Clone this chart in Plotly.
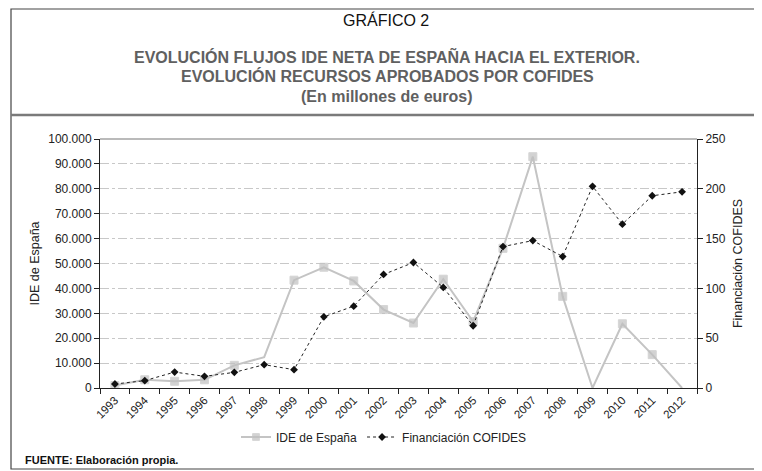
import plotly.graph_objects as go

years = [str(y) for y in range(1993, 2013)]
ide_espana = [1000, 3300, 2700, 3300, 9100, 12400, 43300, 48500, 43000, 31500,
              26100, 43700, 26700, 56100, 92900, 36800, 0, 25800, 13400, 0]
cofides = [4, 7.4, 16, 11.7, 15.7, 23.4, 18.4, 71.5, 82.2, 114,
           126, 101, 62.5, 142, 148, 132, 202.5, 164.5, 193, 197]
left_ticks = [0, 10000, 20000, 30000, 40000, 50000, 60000, 70000, 80000, 90000, 100000]
left_labels = ["0", "10.000", "20.000", "30.000", "40.000", "50.000",
               "60.000", "70.000", "80.000", "90.000", "100.000"]
right_ticks = [0, 50, 100, 150, 200, 250]

FONT = "Liberation Sans, Arial, sans-serif"
# per-point marker sizes (points with no visible marker in the original)
ide_marker_sizes = [8 if y not in ("1998", "2009", "2012") else 0 for y in years]

fig = go.Figure()
fig.add_trace(go.Scatter(
    x=years, y=ide_espana, name="IDE de España", mode="lines+markers",
    line=dict(color="#c4c4c4", width=2),
    marker=dict(symbol="square", size=ide_marker_sizes, color="#c0c0c0"),
    yaxis="y"))
fig.add_trace(go.Scatter(
    x=years, y=cofides, name="Financiación COFIDES", mode="lines+markers",
    line=dict(color="#222222", width=1, dash="dot"),
    marker=dict(symbol="diamond", size=6, color="#111111"),
    yaxis="y2"))

OFF = 8  # default page body margin
W, H = 762 - OFF, 471 - OFF
# plot area in page pixel coordinates
PL, PR, PT, PB = 100, 697, 139, 388
L, R, T, B = PL - OFF, PR - OFF, PT - OFF, PB - OFF


def px(x):
    return (x - PL) / (PR - PL)


def py(y):
    return (PB - y) / (PB - PT)


fig.update_layout(
    width=W, height=H,
    margin=dict(l=L, r=W - R, t=T, b=H - B, pad=0),
    paper_bgcolor="white", plot_bgcolor="white",
    font=dict(family=FONT, size=11, color="#222"),
    showlegend=True,
    legend=dict(orientation="h", x=px(384), xanchor="center", y=py(437), yanchor="middle",
                font=dict(size=12, color="#222"), bgcolor="rgba(0,0,0,0)"),
    xaxis=dict(type="category", range=[-0.5, 19.5], tickson="boundaries",
               ticks="outside", ticklen=5, tickcolor="#222", showline=True,
               linecolor="#222", linewidth=1, showgrid=False, tickangle=-45,
               tickfont=dict(size=11.5, color="#222")),
    yaxis=dict(range=[0, 100000], tickvals=left_ticks, ticktext=left_labels,
               ticks="outside", ticklen=5, tickcolor="#222", showline=True,
               linecolor="#222", linewidth=1, showgrid=True, gridcolor="#c8c8c8",
               griddash="dashdot", gridwidth=1, zeroline=False,
               tickfont=dict(size=12, color="#222"),
               title=dict(text="IDE de España", font=dict(size=12.5, color="#222"), standoff=5)),
    yaxis2=dict(range=[0, 250], tickvals=right_ticks, overlaying="y", side="right",
                ticks="outside", ticklen=5, tickcolor="#222", showline=True,
                linecolor="#222", linewidth=1, showgrid=False, zeroline=False,
                tickfont=dict(size=12, color="#222"),
                title=dict(text="Financiación COFIDES", font=dict(size=12.5, color="#222"), standoff=8)),
)

# title block
fig.add_annotation(text="GRÁFICO 2", xref="paper", yref="paper", x=px(386), y=py(20),
                   yanchor="middle", showarrow=False, font=dict(size=16, color="#111"))
subtitle = ["EVOLUCIÓN FLUJOS IDE NETA DE ESPAÑA HACIA EL EXTERIOR.",
            "EVOLUCIÓN RECURSOS APROBADOS POR COFIDES",
            "(En millones de euros)"]
for text, yy in zip(subtitle, [57, 76, 96]):
    fig.add_annotation(text="<b>%s</b>" % text, xref="paper", yref="paper", x=px(387), y=py(yy),
                       yanchor="middle", showarrow=False, font=dict(size=16, color="#606060"))
fig.add_annotation(text="<b>FUENTE: Elaboración propia.</b>", xref="paper", yref="paper",
                   x=px(23), y=py(460), xanchor="left", yanchor="middle", showarrow=False,
                   font=dict(size=11, color="#111"))

# frame, divider and top plot border
fig.add_shape(type="rect", xref="paper", yref="paper", x0=px(11), x1=px(757), y0=py(469), y1=py(9),
              line=dict(color="#444", width=1.2))
fig.add_shape(type="line", xref="paper", yref="paper", x0=px(11), x1=px(757), y0=py(115), y1=py(115),
              line=dict(color="#7a7a7a", width=2.5))
fig.add_shape(type="line", xref="paper", yref="paper", x0=0, x1=1, y0=1, y1=1,
              line=dict(color="#777", width=1.2))

fig.write_html("out.html")
